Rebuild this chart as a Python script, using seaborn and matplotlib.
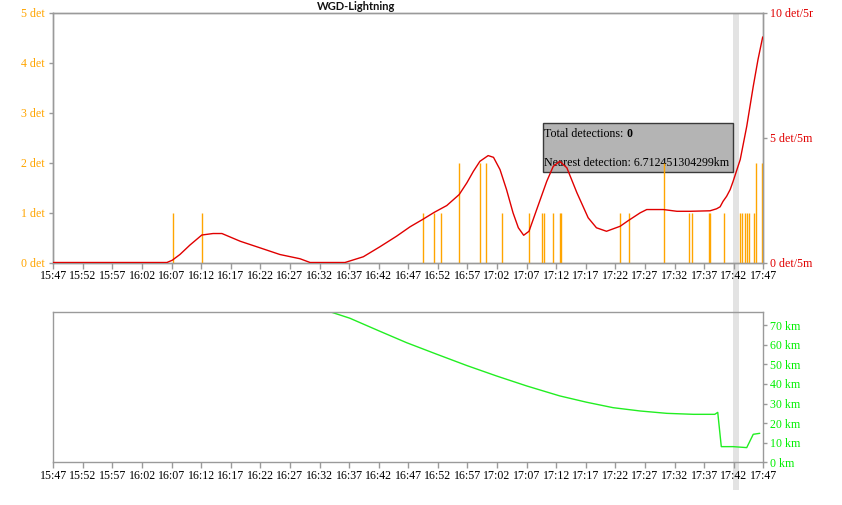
import matplotlib
matplotlib.use("Agg")
import matplotlib.pyplot as plt
import seaborn as sns
import numpy as np
import pandas as pd
from matplotlib.patches import Rectangle
from matplotlib.transforms import Bbox, TransformedBbox, Affine2D

# ---------------- data (minutes after 15:47) ----------------
tick_labels = ["15:47", "15:52", "15:57", "16:02", "16:07", "16:12", "16:17", "16:22",
               "16:27", "16:32", "16:37", "16:42", "16:47", "16:52", "16:57", "17:02",
               "17:07", "17:12", "17:17", "17:22", "17:27", "17:32", "17:37", "17:42", "17:47"]

det_minutes = [20.3, 25.2, 62.4, 64.4, 65.6, 68.6, 72.2, 73.2, 75.9, 80.4, 82.6, 83.0,
               84.5, 85.6, 85.8, 95.8, 97.3, 103.3, 107.4, 108.0, 110.9, 111.0, 113.4,
               116.0, 116.4, 116.9, 117.2, 117.6, 118.5, 118.8, 119.7]
det_counts = [1, 1, 1, 1, 1, 2, 2, 2, 1, 1, 1, 1,
              1, 1, 1, 1, 1, 2, 1, 1, 1, 1, 1,
              1, 1, 1, 1, 1, 1, 2, 2]

rate_minutes = [0.0, 19.2, 20.1, 21.4, 23.1, 25.1, 27.0, 28.5, 31.6, 34.9, 38.3, 41.7,
                43.4, 49.3, 52.4, 55.2, 58.0, 60.3, 62.4, 64.4, 66.5, 68.6, 69.9, 71.0,
                72.1, 73.5, 74.4, 75.5, 76.6, 77.7, 78.6, 79.5, 80.4, 81.7, 83.4, 84.5,
                85.6, 86.8, 88.5, 90.4, 91.8, 93.5, 95.8, 97.2, 99.2, 100.3, 103.1, 105.4,
                107.6, 111.0, 112.1, 112.7, 113.2, 113.8, 114.4, 114.9, 116.1, 117.2,
                118.3, 119.1, 119.9]
rate_values = [0.0, 0.0, 0.09, 0.32, 0.70, 1.10, 1.16, 1.16, 0.85, 0.59, 0.32, 0.15,
               0.0, 0.0, 0.23, 0.63, 1.05, 1.43, 1.72, 2.01, 2.28, 2.72, 3.19, 3.65,
               4.05, 4.28, 4.21, 3.72, 2.92, 1.99, 1.39, 1.09, 1.25, 2.12, 3.25, 3.85,
               4.05, 3.79, 2.79, 1.79, 1.39, 1.25, 1.45, 1.68, 1.99, 2.12, 2.12, 2.05,
               2.05, 2.07, 2.15, 2.23, 2.45, 2.65, 2.92, 3.25, 4.12, 5.45,
               7.05, 8.12, 9.03]

dist_minutes = [47.05, 50.1, 54.9, 59.7, 64.8, 69.9, 74.9, 80.0, 82.3, 85.6, 90.1, 94.6,
                99.2, 103.7, 108.2, 111.8, 112.3, 112.9, 114.9, 117.2, 118.3, 119.4]
dist_km = [76.6, 73.6, 67.3, 61.1, 55.2, 49.4, 44.1, 39.0, 36.9, 33.9, 30.7, 27.9,
           26.2, 25.0, 24.5, 24.5, 25.5, 8.0, 8.0, 7.5, 14.3, 14.8]

left_ticks = [0, 1, 2, 3, 4, 5]
right_ticks = [0, 5, 10]
km_ticks = [0, 10, 20, 30, 40, 50, 60, 70]

tooltip_total = "0"
tooltip_nearest = "6.712451304299km"
highlight_start, highlight_end = 114.9, 115.9

# ---------------- style ----------------
sns.set_style("white")
plt.rcParams['font.family'] = ['Liberation Serif', 'DejaVu Serif']
FS = 8.6
GRAY = "#9a9a9a"
ORANGE = "#FFA500"
RED = "#E00000"
GREEN_LINE = "#22EE22"
GREEN_TXT = "#00F000"

W, H = 842, 505
fig = plt.figure(figsize=(W / 100, H / 100), dpi=100)

def px_axes(x0, y0, x1, y1):
    return fig.add_axes([x0 / W, 1 - y1 / H, (x1 - x0) / W, (y1 - y0) / H])

ax = px_axes(53.3, 12.7, 763.3, 262.5)
ax2 = px_axes(53.3, 312.3, 763.3, 462.3)
for a in (ax, ax2):
    a.set_facecolor("none")

# highlight band spanning both charts (figure level, behind axes)
x_to_px = lambda m: 53.3 + m * 710 / 120
band = Rectangle((x_to_px(highlight_start) / W, 1 - 490 / H),
                 (x_to_px(highlight_end) - x_to_px(highlight_start)) / W, (490 - 12.7) / H,
                 transform=fig.transFigure, facecolor="#e3e3e3", edgecolor="none", zorder=-5)
fig.patches.append(band)

xt = np.arange(0, 121, 5)

# ---------------- top chart ----------------
ax.vlines(det_minutes, 0, det_counts, colors=ORANGE, linewidth=1.0, zorder=3)
ax.set_xlim(0, 120)
ax.set_ylim(0, 5)
ax.set_yticks(left_ticks)
ax.set_yticklabels([f"{v} det" for v in left_ticks], color=ORANGE, fontsize=FS)
ax.set_xticks(xt)
ax.set_xticklabels(tick_labels, fontsize=FS, color="black")
ax.tick_params(axis="x", length=4, width=1, color=GRAY, pad=1.5, bottom=True)
ax.tick_params(axis="y", length=3, width=1, color=GRAY, pad=3, left=True)

axr = ax.twinx()
axr.set_facecolor("none")
sns.lineplot(x=rate_minutes, y=rate_values, ax=axr, color=RED, linewidth=1.0, zorder=4)
axr.set_ylim(0, 10)
axr.set_xlim(0, 120)
axr.set_yticks(right_ticks)
axr.set_yticklabels([f"{v} det/5m" for v in right_ticks], color=RED, fontsize=FS)
axr.tick_params(axis="y", length=3, width=1, color=GRAY, pad=1.5, right=True)
axr.set_ylabel("")

for a in (ax, axr):
    for s in a.spines.values():
        s.set_color(GRAY)
        s.set_linewidth(1.0)

# tooltip box (drawn beneath data marks)
bx0, bx1 = (542.7 - 53.3) / 710 * 120, (732.7 - 53.3) / 710 * 120
by0, by1 = (262.5 - 172.3) / 250 * 5, (262.5 - 123.3) / 250 * 5
ax.add_patch(Rectangle((bx0, by0), bx1 - bx0, by1 - by0, facecolor="#b4b4b4",
                       edgecolor="#3a3a3a", linewidth=1.0, zorder=1))
t1 = ax.text((544.5 - 53.3) / 710 * 120, (262.5 - 133.5) / 250 * 5, "Total detections: ",
             fontsize=FS, va="center", ha="left", color="black", zorder=2)
ax.annotate(tooltip_total, xy=(1, 0), xycoords=t1, va="bottom", ha="left",
            fontsize=FS, fontweight="bold", color="black", zorder=2)
ax.text((544.5 - 53.3) / 710 * 120, (262.5 - 162.7) / 250 * 5,
        "Nearest detection: " + tooltip_nearest,
        fontsize=FS, va="center", ha="left", color="black", zorder=2)

# ---------------- bottom chart ----------------
sns.lineplot(x=dist_minutes, y=dist_km, ax=ax2, color=GREEN_LINE, linewidth=1.0)
ax2.set_xlim(0, 120)
ax2.set_ylim(0, 76.6)
ax2.yaxis.tick_right()
ax2.set_yticks(km_ticks)
ax2.set_yticklabels([f"{v} km" for v in km_ticks], color=GREEN_TXT, fontsize=FS)
ax2.set_xticks(xt)
ax2.set_xticklabels(tick_labels, fontsize=FS, color="black")
ax2.tick_params(axis="x", length=4, width=1, color=GRAY, pad=1.5, bottom=True)
ax2.tick_params(axis="y", length=3, width=1, color=GRAY, pad=1.5, right=True, left=False)
ax2.set_xlabel("")
ax2.set_ylabel("")
for s in ax2.spines.values():
    s.set_color(GRAY)
    s.set_linewidth(1.0)

# title
fig.text(356 / W, 1 - 7 / H, "WGD-Lightning", ha="center", va="center",
         fontsize=8.0, fontweight="bold", family=["Lato", "DejaVu Sans"], color="#111111")

# the right labels are cut off at the drawing edge in the reference
clip = TransformedBbox(Bbox.from_extents(0, 0, 813, H), Affine2D())
for lab in axr.get_yticklabels():
    lab.set_clip_box(clip)
    lab.set_clip_on(True)

fig.savefig("out.png", dpi=100)
